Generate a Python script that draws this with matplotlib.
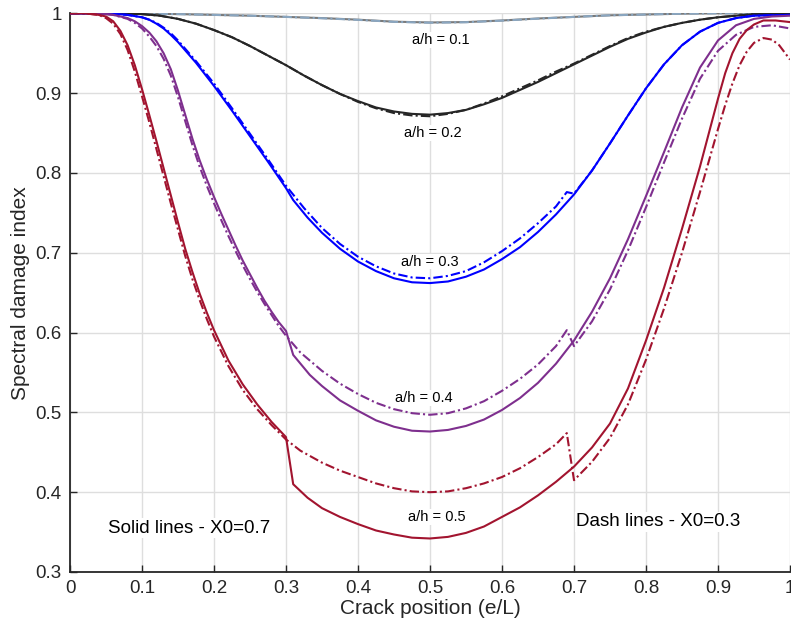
import matplotlib
matplotlib.use("Agg")
import matplotlib.pyplot as plt

plt.rcParams['font.family'] = ['Liberation Sans', 'DejaVu Sans']

# ---------------- data ----------------
x_ticks = [0, 0.1, 0.2, 0.3, 0.4, 0.5, 0.6, 0.7, 0.8, 0.9, 1.0]
x_tick_labels = ['0', '0.1', '0.2', '0.3', '0.4', '0.5', '0.6', '0.7', '0.8', '0.9', '1']
y_ticks = [0.3, 0.4, 0.5, 0.6, 0.7, 0.8, 0.9, 1.0]
y_tick_labels = ['0.3', '0.4', '0.5', '0.6', '0.7', '0.8', '0.9', '1']

# a/h = 0.1
x_01 = [0, 0.05, 0.1, 0.15, 0.2, 0.25, 0.3, 0.35, 0.4, 0.45, 0.5, 0.55, 0.6, 0.65, 0.7, 0.75, 0.8, 0.85, 0.9, 0.95, 1.0]
y_01_solid = [1.0, 1.0, 0.9995, 0.999, 0.998, 0.997, 0.9955, 0.994, 0.992, 0.9895, 0.9885, 0.989, 0.991, 0.9935, 0.9955, 0.9975, 0.9985, 0.9995, 1.0, 1.0, 1.0]
y_01_dash = [1.0, 1.0, 0.9995, 0.999, 0.998, 0.997, 0.9955, 0.9938, 0.9918, 0.9893, 0.9882, 0.9888, 0.9908, 0.9933, 0.9955, 0.9975, 0.9985, 0.9995, 1.0, 1.0, 1.0]

# a/h = 0.2
x_02 = [0, 0.05, 0.1, 0.125, 0.15, 0.175, 0.2, 0.225, 0.25, 0.275, 0.3, 0.325, 0.35, 0.375, 0.4, 0.425, 0.45, 0.475, 0.5,
        0.525, 0.55, 0.575, 0.6, 0.625, 0.65, 0.675, 0.7, 0.725, 0.75, 0.775, 0.8, 0.825, 0.85, 0.875, 0.9, 0.95, 1.0]
y_02_solid = [1.0, 1.0, 0.999, 0.997, 0.993, 0.987, 0.979, 0.970, 0.959, 0.947, 0.935, 0.922, 0.910, 0.899, 0.890, 0.882, 0.877, 0.874, 0.873,
              0.875, 0.879, 0.886, 0.894, 0.904, 0.914, 0.925, 0.936, 0.947, 0.958, 0.968, 0.976, 0.983, 0.988, 0.992, 0.995, 0.999, 1.0]
y_02_dash = [1.0, 1.0, 0.999, 0.997, 0.993, 0.987, 0.979, 0.970, 0.959, 0.947, 0.935, 0.922, 0.910, 0.899, 0.889, 0.881, 0.875, 0.872, 0.871,
             0.874, 0.879, 0.887, 0.896, 0.906, 0.916, 0.927, 0.937, 0.948, 0.959, 0.969, 0.977, 0.983, 0.988, 0.992, 0.995, 0.999, 1.0]

# a/h = 0.3
x_03_solid = [0, 0.06, 0.08, 0.10, 0.11, 0.12, 0.13, 0.14, 0.15, 0.175, 0.2, 0.225, 0.25, 0.275, 0.3, 0.31, 0.33, 0.35, 0.375, 0.4,
              0.425, 0.45, 0.475, 0.5, 0.525, 0.55, 0.575, 0.6, 0.625, 0.65, 0.675, 0.7, 0.725, 0.75, 0.775, 0.8, 0.825, 0.85,
              0.875, 0.9, 0.925, 0.95, 1.0]
y_03_solid = [1.0, 0.9995, 0.998, 0.995, 0.992, 0.987, 0.981, 0.973, 0.964, 0.938, 0.909, 0.878, 0.846, 0.814, 0.781, 0.766, 0.744, 0.725, 0.705, 0.689,
              0.677, 0.668, 0.663, 0.662, 0.664, 0.670, 0.679, 0.692, 0.707, 0.726, 0.748, 0.773, 0.803, 0.837, 0.872, 0.906, 0.936, 0.960,
              0.977, 0.988, 0.994, 0.997, 0.998]
x_03_dash = [0, 0.06, 0.08, 0.10, 0.11, 0.12, 0.13, 0.14, 0.15, 0.175, 0.2, 0.225, 0.25, 0.275, 0.3, 0.325, 0.35, 0.375, 0.4,
             0.425, 0.45, 0.475, 0.5, 0.525, 0.55, 0.575, 0.6, 0.625, 0.65, 0.675, 0.69, 0.70, 0.725, 0.75, 0.775, 0.8, 0.825, 0.85,
             0.875, 0.9, 0.925, 0.95, 1.0]
y_03_dash = [1.0, 0.9995, 0.998, 0.995, 0.992, 0.988, 0.982, 0.975, 0.966, 0.940, 0.912, 0.881, 0.849, 0.817, 0.784, 0.756, 0.731, 0.711, 0.695,
             0.683, 0.674, 0.669, 0.668, 0.671, 0.677, 0.688, 0.702, 0.718, 0.737, 0.758, 0.776, 0.774, 0.803, 0.837, 0.872, 0.906, 0.936, 0.960,
             0.977, 0.988, 0.994, 0.997, 0.998]

# a/h = 0.4
x_04_solid = [0, 0.04, 0.06, 0.08, 0.09, 0.10, 0.11, 0.12, 0.13, 0.14, 0.15, 0.16, 0.17, 0.18, 0.19, 0.20, 0.21, 0.22, 0.23, 0.24,
              0.25, 0.26, 0.27, 0.28, 0.29, 0.30, 0.31, 0.333, 0.35, 0.375, 0.4, 0.425, 0.45, 0.475, 0.5, 0.525, 0.55, 0.575, 0.6,
              0.625, 0.65, 0.675, 0.7, 0.725, 0.75, 0.775, 0.8, 0.825, 0.85, 0.875, 0.9, 0.925, 0.95, 0.975, 1.0]
y_04_solid = [1.0, 1.0, 0.998, 0.994, 0.990, 0.984, 0.976, 0.965, 0.950, 0.930, 0.903, 0.873, 0.843, 0.816, 0.792, 0.770, 0.749, 0.729, 0.709, 0.690,
              0.673, 0.656, 0.640, 0.626, 0.613, 0.602, 0.572, 0.547, 0.533, 0.515, 0.502, 0.490, 0.482, 0.477, 0.476, 0.478, 0.483, 0.491, 0.503,
              0.518, 0.537, 0.561, 0.590, 0.626, 0.668, 0.717, 0.771, 0.826, 0.882, 0.932, 0.966, 0.985, 0.993, 0.996, 0.997]
x_04_dash = [0, 0.04, 0.06, 0.08, 0.09, 0.10, 0.11, 0.12, 0.13, 0.14, 0.15, 0.16, 0.17, 0.18, 0.19, 0.20, 0.21, 0.22, 0.23, 0.24,
             0.25, 0.26, 0.27, 0.28, 0.29, 0.30, 0.32, 0.35, 0.375, 0.4, 0.425, 0.45, 0.475, 0.5, 0.525, 0.55, 0.575, 0.6,
             0.625, 0.65, 0.675, 0.69, 0.70, 0.725, 0.75, 0.775, 0.8, 0.825, 0.85, 0.875, 0.9, 0.925, 0.95, 0.975, 1.0]
y_04_dash = [1.0, 1.0, 0.998, 0.993, 0.988, 0.981, 0.971, 0.959, 0.943, 0.922, 0.895, 0.865, 0.835, 0.808, 0.784, 0.762, 0.741, 0.721, 0.702, 0.684,
             0.667, 0.651, 0.636, 0.622, 0.608, 0.596, 0.575, 0.552, 0.536, 0.523, 0.512, 0.504, 0.499, 0.497, 0.499, 0.505, 0.514, 0.527,
             0.542, 0.560, 0.583, 0.603, 0.583, 0.614, 0.654, 0.703, 0.757, 0.813, 0.868, 0.918, 0.953, 0.973, 0.983, 0.985, 0.981]

# a/h = 0.5
x_05_solid = [0, 0.02, 0.03, 0.04, 0.05, 0.06, 0.07, 0.08, 0.09, 0.10, 0.11, 0.12, 0.13, 0.14, 0.15, 0.16, 0.17, 0.18, 0.19, 0.20,
              0.22, 0.24, 0.26, 0.28, 0.30, 0.31, 0.33, 0.35, 0.375, 0.4, 0.425, 0.45, 0.475, 0.5, 0.525, 0.55, 0.575, 0.6, 0.625,
              0.65, 0.675, 0.7, 0.725, 0.75, 0.775, 0.8, 0.825, 0.85, 0.875, 0.9, 0.91, 0.92, 0.93, 0.94, 0.95, 0.963, 0.98, 1.0]
y_05_solid = [1.0, 1.0, 0.999, 0.998, 0.996, 0.990, 0.978, 0.960, 0.935, 0.905, 0.873, 0.840, 0.806, 0.772, 0.738, 0.705, 0.676, 0.649, 0.625, 0.603,
              0.565, 0.535, 0.510, 0.488, 0.469, 0.410, 0.393, 0.380, 0.369, 0.360, 0.352, 0.347, 0.343, 0.342, 0.344, 0.349, 0.357, 0.369, 0.381,
              0.396, 0.413, 0.432, 0.456, 0.486, 0.530, 0.590, 0.656, 0.730, 0.808, 0.893, 0.925, 0.950, 0.968, 0.979, 0.986, 0.991, 0.991, 0.989]
x_05_dash = [0, 0.02, 0.03, 0.04, 0.05, 0.06, 0.07, 0.08, 0.09, 0.10, 0.11, 0.12, 0.13, 0.14, 0.15, 0.16, 0.17, 0.18, 0.19, 0.20,
             0.22, 0.24, 0.26, 0.28, 0.30, 0.32, 0.35, 0.375, 0.4, 0.425, 0.45, 0.475, 0.5, 0.525, 0.55, 0.575, 0.6, 0.625,
             0.65, 0.675, 0.69, 0.70, 0.725, 0.75, 0.775, 0.8, 0.825, 0.85, 0.875, 0.9, 0.91, 0.92, 0.93, 0.94, 0.95, 0.963, 0.975, 0.985, 1.0]
y_05_dash = [1.0, 1.0, 0.999, 0.998, 0.994, 0.987, 0.974, 0.954, 0.927, 0.896, 0.864, 0.830, 0.796, 0.762, 0.729, 0.696, 0.667, 0.641, 0.617, 0.595,
             0.558, 0.528, 0.504, 0.484, 0.466, 0.452, 0.437, 0.427, 0.419, 0.411, 0.405, 0.401, 0.400, 0.401, 0.405, 0.411, 0.419, 0.430,
             0.444, 0.460, 0.474, 0.415, 0.438, 0.468, 0.510, 0.566, 0.630, 0.700, 0.776, 0.855, 0.885, 0.912, 0.935, 0.952, 0.963, 0.969, 0.967, 0.960, 0.942]

labels = ['a/h = 0.1', 'a/h = 0.2', 'a/h = 0.3', 'a/h = 0.4', 'a/h = 0.5']
label_x = [0.515, 0.504, 0.50, 0.492, 0.509]
label_y = [0.9665, 0.850, 0.689, 0.518, 0.369]

# ---------------- plotting ----------------
W, H = 791, 636
fig = plt.figure(figsize=(W / 100, H / 100), dpi=100)
ax = fig.add_axes([70 / W, (H - 572) / H, 720 / W, (572 - 13.3) / H])

dash = (0, (4.5, 1.5, 1.0, 1.5))
lw = 1.5
c_gray, c_gray_d = '#7a7a7a', '#8aa6c0'
c_black = '#262626'
c_blue = '#0000ff'
c_purple = '#7e2f8e'
c_red = '#a2142f'

ax.plot(x_01, y_01_solid, color=c_gray, lw=lw, zorder=3)
ax.plot(x_01, y_01_dash, color=c_gray_d, lw=lw, ls=dash, zorder=3)
ax.plot(x_02, y_02_solid, color=c_black, lw=lw, zorder=3)
ax.plot(x_02, y_02_dash, color=c_black, lw=lw, ls=dash, zorder=3)
ax.plot(x_03_solid, y_03_solid, color=c_blue, lw=lw, zorder=3)
ax.plot(x_03_dash, y_03_dash, color=c_blue, lw=lw, ls=dash, zorder=3)
ax.plot(x_04_solid, y_04_solid, color=c_purple, lw=lw, zorder=3)
ax.plot(x_04_dash, y_04_dash, color=c_purple, lw=lw, ls=dash, zorder=3)
ax.plot(x_05_solid, y_05_solid, color=c_red, lw=lw, zorder=3)
ax.plot(x_05_dash, y_05_dash, color=c_red, lw=lw, ls=dash, zorder=3)

for t, tx, ty in zip(labels, label_x, label_y):
    ax.text(tx, ty, t, ha='center', va='center', fontsize=10.5, color='black',
            bbox=dict(facecolor='white', edgecolor='none', pad=0.5), zorder=4)

ax.text(0.166, 0.355, 'Solid lines - X0=0.7', ha='center', va='center', fontsize=13.5,
        bbox=dict(facecolor='white', edgecolor='none', pad=1), zorder=4)
ax.text(0.817, 0.363, 'Dash lines - X0=0.3', ha='center', va='center', fontsize=13.5,
        bbox=dict(facecolor='white', edgecolor='none', pad=1), zorder=4)

ax.set_xlim(0, 1)
ax.set_ylim(0.3, 1)
ax.set_xticks(x_ticks)
ax.set_xticklabels(x_tick_labels)
ax.set_yticks(y_ticks)
ax.set_yticklabels(y_tick_labels)
ax.grid(True, color='#dedede', lw=1)
ax.set_axisbelow(True)
for s in ['top', 'right']:
    ax.spines[s].set_visible(False)
for s in ['left', 'bottom']:
    ax.spines[s].set_color('#262626')
    ax.spines[s].set_linewidth(1.3)
ax.tick_params(direction='in', length=5, width=1, colors='#262626', labelsize=13.5, pad=6)
for lab in ax.get_xticklabels() + ax.get_yticklabels():
    lab.set_color('#262626')
ax.set_xlabel('Crack position (e/L)', fontsize=15, color='#262626', labelpad=1)
ax.set_ylabel('Spectral damage index', fontsize=15, color='#262626', labelpad=4)

fig.savefig('out.png', dpi=100)
